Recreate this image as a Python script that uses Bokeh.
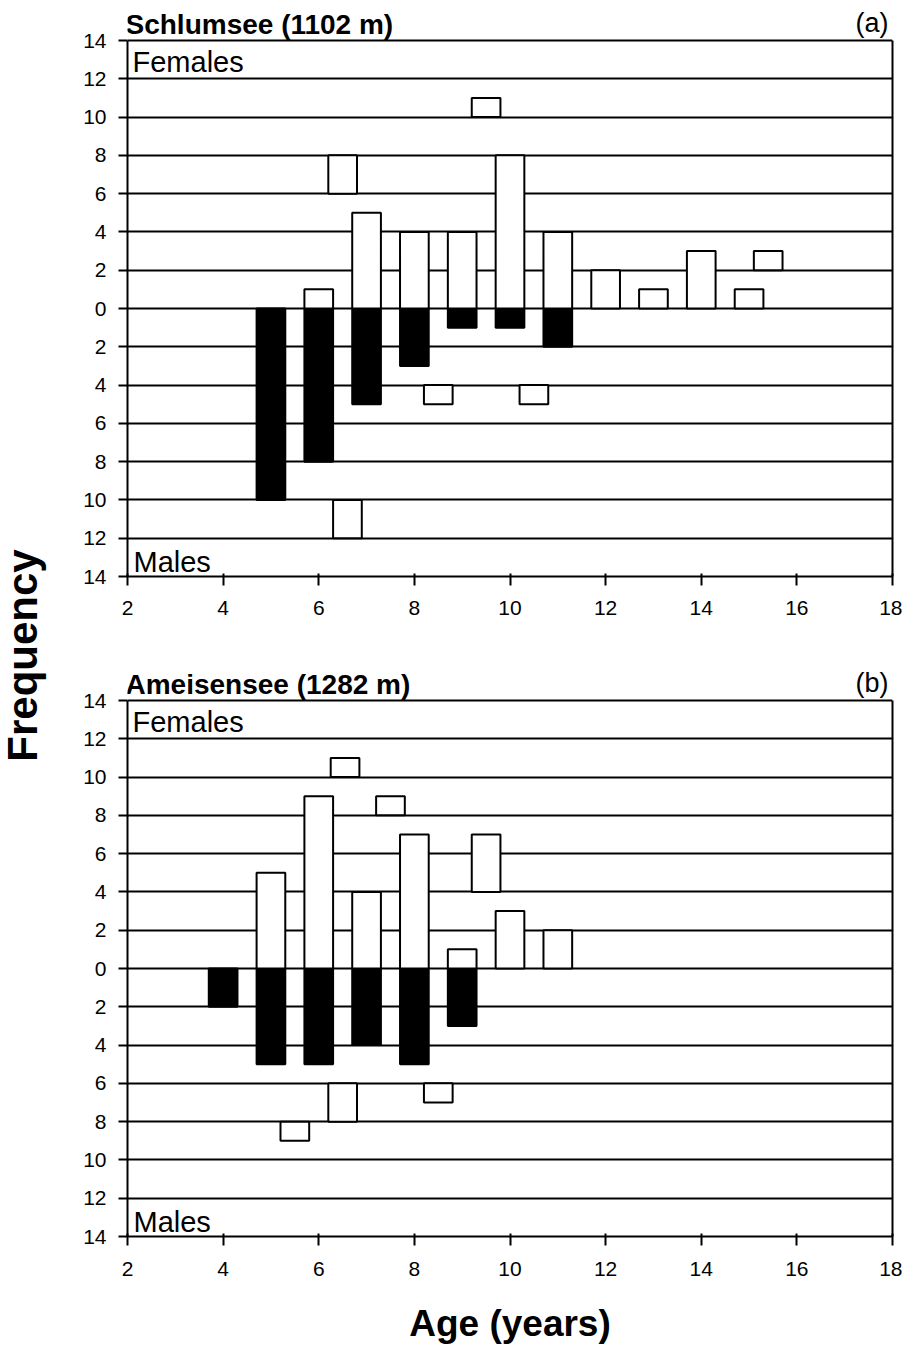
from bokeh.plotting import figure
from bokeh.models import Label, FixedTicker, Range1d, LinearAxis
from bokeh.layouts import row, column
from bokeh.embed import file_html
from bokeh.resources import INLINE
import math

FONT = "Liberation Sans"

# ---- Panel (a): Schlumsee ----
a_fem_age = [6, 7, 8, 9, 10, 11, 12, 13, 14, 15]
a_fem_n = [1, 5, 4, 4, 8, 4, 2, 1, 3, 1]
a_male_age = [5, 6, 7, 8, 9, 10, 11]
a_male_n = [10, 8, 5, 3, 1, 1, 2]
a_box_age = [6.5, 9.5, 15.4, 8.5, 10.5, 6.6]
a_box_lo = [6, 10, 2, -5, -5, -12]
a_box_hi = [8, 11, 3, -4, -4, -10]

# ---- Panel (b): Ameisensee ----
b_fem_age = [5, 6, 7, 8, 9, 10, 11]
b_fem_n = [5, 9, 4, 7, 1, 3, 2]
b_male_age = [4, 5, 6, 7, 8, 9]
b_male_n = [2, 5, 5, 4, 5, 3]
b_box_age = [6.55, 7.5, 9.5, 5.5, 6.5, 8.5]
b_box_lo = [10, 8, 4, -9, -8, -7]
b_box_hi = [11, 9, 7, -8, -6, -6]

x_ticks = [2, 4, 6, 8, 10, 12, 14, 16, 18]
y_ticks = list(range(-14, 15, 2))
y_tick_labels = {v: str(abs(v)) for v in y_ticks}

PX_PER_UNIT = 536 / 28.0
SHIFT = 8  # empirical correction for label baseline


def panel(title, tag, fem_age, fem_n, male_age, male_n, box_age, box_lo, box_hi,
          width, height, bl, br, head_px, bb, tick_standoff, xlabel=None):
    top = 14 + head_px / PX_PER_UNIT
    p = figure(width=width, height=height, x_range=Range1d(2, 18), y_range=Range1d(-14, top),
               output_backend="svg", toolbar_location=None, title=None,
               min_border_left=bl, min_border_right=br, min_border_top=0, min_border_bottom=bb)
    p.background_fill_color = "white"
    p.border_fill_color = "white"
    p.outline_line_color = None

    p.vbar(x=male_age, top=0, bottom=[-v for v in male_n], width=0.6,
           fill_color="black", line_color="black", line_width=2)
    p.vbar(x=fem_age, top=fem_n, bottom=0, width=0.6,
           fill_color="white", line_color="black", line_width=2)
    p.vbar(x=box_age, top=box_hi, bottom=box_lo, width=0.6,
           fill_color="white", line_color="black", line_width=2)

    p.xgrid.visible = False
    p.ygrid.ticker = FixedTicker(ticks=y_ticks)
    p.ygrid.grid_line_color = "black"
    p.ygrid.grid_line_width = 2

    p.xaxis.ticker = FixedTicker(ticks=x_ticks)
    p.yaxis.ticker = FixedTicker(ticks=y_ticks)
    p.yaxis.bounds = (-14, 14)
    p.yaxis.major_label_overrides = y_tick_labels
    for ax in (p.xaxis, p.yaxis):
        ax.axis_line_color = "black"
        ax.axis_line_width = 2
        ax.major_tick_line_color = "black"
        ax.major_tick_line_width = 2
        ax.minor_tick_line_color = None
        ax.major_label_text_font = FONT
        ax.major_label_text_font_size = "21px"
        ax.major_label_text_color = "black"
        ax.major_tick_out = 9
    p.xaxis.major_tick_in = 3
    p.yaxis.major_tick_in = 0
    p.yaxis.major_label_standoff = 12
    p.xaxis.major_label_standoff = tick_standoff

    right = LinearAxis(ticker=FixedTicker(ticks=[]), bounds=(-14, 14),
                       axis_line_color="black", axis_line_width=2,
                       major_tick_line_color=None, minor_tick_line_color=None,
                       major_label_text_font_size="0px")
    p.add_layout(right, "right")

    if xlabel:
        p.xaxis.axis_label = xlabel
        p.xaxis.axis_label_text_font = FONT
        p.xaxis.axis_label_text_font_style = "bold"
        p.xaxis.axis_label_text_font_size = "37px"
        p.xaxis.axis_label_text_color = "black"
        p.xaxis.axis_label_standoff = 24

    p.add_layout(Label(x=2, y=14, text=title, x_offset=-2, y_offset=8 + SHIFT,
                       text_font=FONT, text_font_style="bold", text_font_size="28px",
                       text_baseline="alphabetic", text_align="left", text_color="black"))
    p.add_layout(Label(x=18, y=14, text=tag, x_offset=-4, y_offset=10 + SHIFT,
                       text_font=FONT, text_font_size="27px",
                       text_baseline="alphabetic", text_align="right", text_color="black"))
    p.add_layout(Label(x=2, y=14, text="Females", x_offset=5, y_offset=-29 + SHIFT,
                       text_font=FONT, text_font_size="29px",
                       text_baseline="alphabetic", text_align="left", text_color="black"))
    p.add_layout(Label(x=2, y=-14, text="Males", x_offset=6, y_offset=7 + SHIFT,
                       text_font=FONT, text_font_size="29px",
                       text_baseline="alphabetic", text_align="left", text_color="black"))
    return p


pa = panel("Schlumsee (1102 m)", "(a)", a_fem_age, a_fem_n, a_male_age, a_male_n,
           a_box_age, a_box_lo, a_box_hi, 844, 640, 66, 10, 40, 64, 15)
pb = panel("Ameisensee (1282 m)", "(b)", b_fem_age, b_fem_n, b_male_age, b_male_n,
           b_box_age, b_box_lo, b_box_hi, 844, 707, 69, 9, 60, 111, 16, xlabel="Age (years)")

left = figure(width=58, height=1347, x_range=Range1d(0, 1), y_range=Range1d(0, 1),
              output_backend="svg", toolbar_location=None, title=None,
              min_border_left=0, min_border_right=0, min_border_top=0, min_border_bottom=0)
left.axis.visible = False
left.grid.visible = False
left.outline_line_color = None
left.background_fill_color = "white"
left.add_layout(Label(x=22, y=692, x_units="screen", y_units="screen", text="Frequency",
                      angle=math.pi / 2, text_align="center", text_baseline="alphabetic",
                      text_font=FONT, text_font_style="bold", text_font_size="42px",
                      text_color="black"))

layout = row(left, column(pa, pb))

open("out.html", "w").write(file_html(layout, INLINE))
